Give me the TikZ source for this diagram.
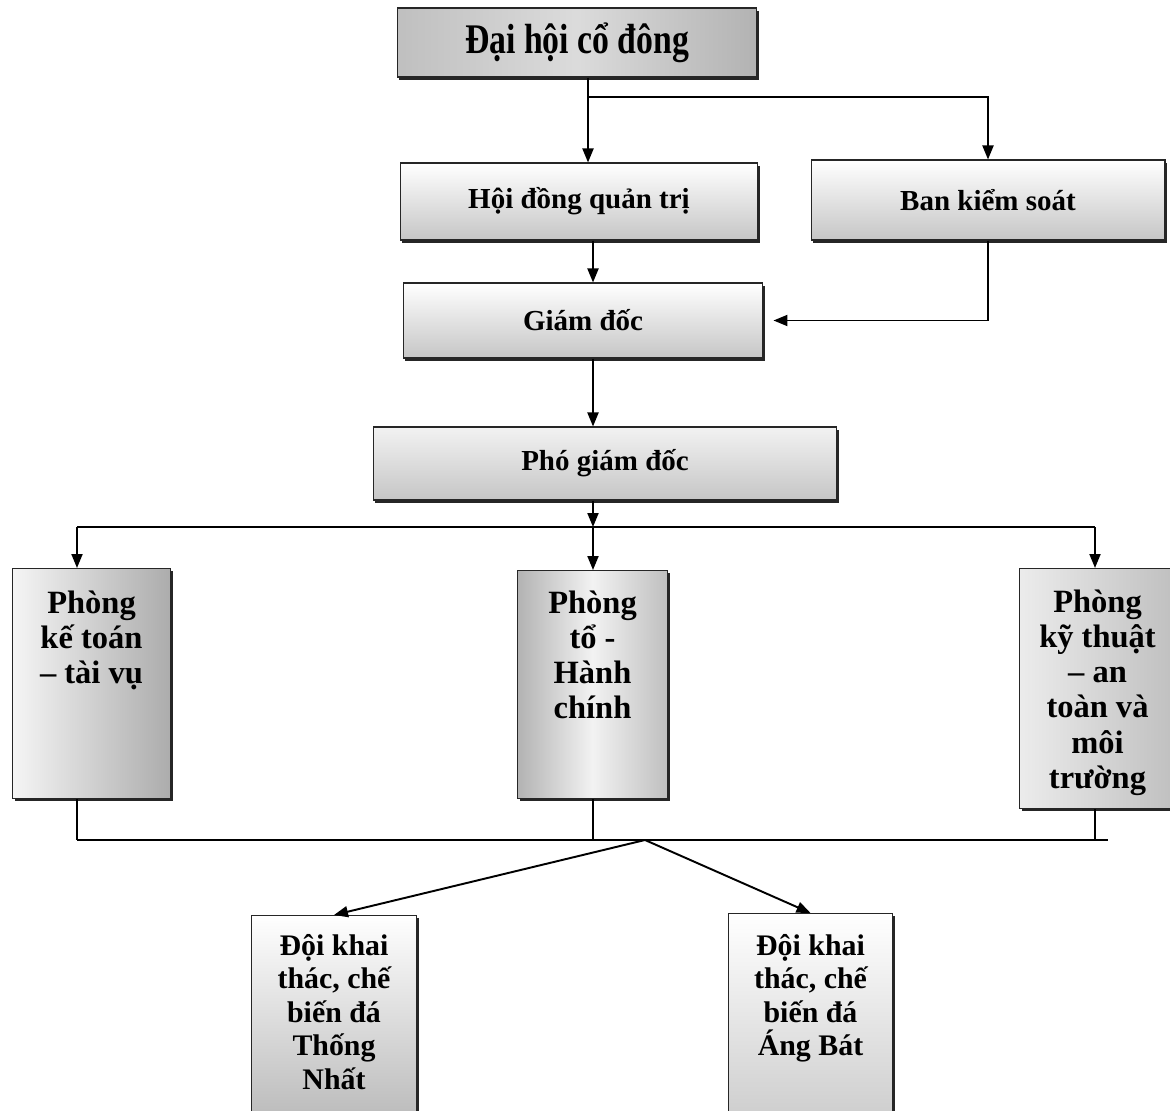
\documentclass[tikz,border=0pt]{standalone}
\usepackage{fontspec}
\setmainfont{Liberation Serif}
\newfontfamily\narrowserif[FakeStretch=0.8]{Liberation Serif}
\usetikzlibrary{arrows.meta,shadows}
\newcommand{\boxtext}[4]{\parbox[c][#1][t]{#2}{\centering\rule{0pt}{#3}#4}}
\tikzset{
   every path/.style={>={Triangle[length=2.8mm,width=2.2mm]}},
   box/.style={draw=black!85,line width=0.6pt,inner sep=0pt,
      drop shadow={shadow xshift=1.3pt,shadow yshift=-1.6pt,fill=black!85,opacity=1}},
   lvl/.style={box,top color=white,bottom color=gray!45,font=\fontsize{16.5}{19}\selectfont\bfseries},
   dept/.style={box,font=\fontsize{18.5}{20}\selectfont\bfseries},
   team/.style={box,top color=white,bottom color=gray!55,font=\fontsize{17}{19}\selectfont\bfseries},
   link/.style={-,line width=1.1pt},
   arr/.style={->,line width=1.1pt},
}

\begin{document}
\begin{tikzpicture}[x=0.02cm,y=-0.02cm]
        \useasboundingbox (0,0) rectangle (1170,1111);
        \clip (0,0) rectangle (1170,1111);

        \node[box,left color=gray!50,right color=gray!60,middle color=gray!28,
              minimum width=7.2cm,minimum height=1.38cm,
              font=\narrowserif\bfseries\fontsize{24}{26}\selectfont] (dhcd) at (577,42.5) {Đại hội cổ đông};
        \node[lvl,minimum width=7.16cm,minimum height=1.54cm] (hdqt) at (579,201.5) {Hội đồng quản trị};
        \node[lvl,minimum width=7.08cm,minimum height=1.6cm]  (bks)  at (988,200)   {Ban kiểm soát};
        \node[lvl,minimum width=7.2cm,minimum height=1.5cm]   (gd)   at (583,320.5) {Giám đốc};
        \node[lvl,top color=gray!10,minimum width=9.28cm,minimum height=1.46cm] (pgd) at (605,463.5) {Phó giám đốc};

        \node[dept,left color=gray!8,right color=gray!65,anchor=north west] (kt) at (12,568)
             {\boxtext{4.6cm}{3.16cm}{0.9cm}{Phòng\\kế toán\\– tài vụ}};
        \node[dept,left color=gray!60,right color=gray!50,middle color=gray!10,anchor=north west] (tc) at (517,570)
             {\boxtext{4.56cm}{3.0cm}{0.86cm}{Phòng\\tổ -\\Hành\\chính}};
        \node[dept,left color=gray!15,right color=gray!50,anchor=north west] (kth) at (1019,568)
             {\boxtext{4.8cm}{3.12cm}{0.88cm}{Phòng\\kỹ thuật\\– an\\toàn và\\môi\\trường}};

        \node[team,anchor=north west] (dk1) at (251,915)
             {\boxtext{4.2cm}{3.3cm}{0.8cm}{Đội khai\\thác, chế\\biến đá\\Thống\\Nhất}};
        \node[team,bottom color=gray!40,anchor=north west] (dk2) at (728,913)
             {\boxtext{4.24cm}{3.28cm}{0.84cm}{Đội khai\\thác, chế\\biến đá\\Áng Bát}};

        \coordinate (fork)  at (588,97);
        \coordinate (spine) at (593,0);
        \coordinate (bus)   at (593,527);
        \coordinate (busl)  at (77,527);
        \coordinate (busr)  at (1095,527);
        \coordinate (hub)   at (645,840);
        \coordinate (lowl)  at (77,840);
        \coordinate (lowr)  at (1108,840);

        \draw[arr] (dhcd.south -| fork) -- (hdqt.north -| fork);
        \draw[arr] (fork) -| (bks.north);
        \draw[arr] (hdqt.south -| spine) -- (gd.north -| spine);
        \draw[arr,shorten >=2mm] (bks.south) |- (gd.east);
        \draw[arr] (gd.south -| spine) -- (pgd.north -| spine);
        \draw[arr] (pgd.south -| spine) -- (bus);

        \draw[link] (busl) -- (busr);
        \draw[arr] (busl) -- (busl |- kt.north);
        \draw[arr] (bus) -- (bus |- tc.north);
        \draw[arr] (busr) -- (busr |- kth.north);

        \draw[link] (kt.south -| lowl) -- (lowl);
        \draw[link] (tc.south -| spine) -- (spine |- hub);
        \draw[link] (kth.south -| busr) -- (busr |- hub);
        \draw[link] (lowl) -- (lowr);
        \draw[arr] (hub) -- (dk1.north);
        \draw[arr] (hub) -- (dk2.north);
    \end{tikzpicture}
\end{document}
